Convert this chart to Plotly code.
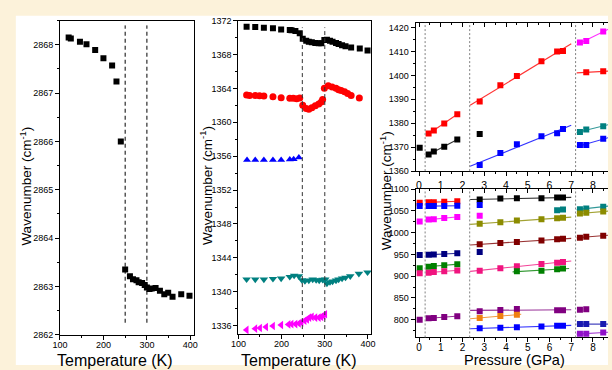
import numpy as np
import plotly.graph_objects as go

W, H = 612, 370

# ---------------- Panel A: single band vs temperature ----------------
temp_a = [120, 125, 146, 161, 181, 200, 220, 230, 240, 250, 261, 268, 276, 281, 289, 295,
          300, 306, 311, 320, 330, 340, 349, 359, 379, 398]
wn_a = [2868.15, 2868.13, 2868.06, 2868.01, 2867.89, 2867.72, 2867.57, 2867.24, 2866.0,
        2863.35, 2863.21, 2863.15, 2863.13, 2863.09, 2863.07, 2863.03, 2862.98, 2862.95,
        2862.96, 2862.97, 2862.91, 2862.84, 2862.87, 2862.79, 2862.84, 2862.81]
trans_temp_a = [250, 300]

# ---------------- Panel B: five bands vs temperature ----------------
temp_b_black = [119, 139, 159, 180, 199, 219, 223, 232, 242, 249, 257, 263, 270, 278, 286, 292,
                299, 305, 312, 318, 326, 332, 340, 348, 361, 381, 399]
wn_b_black = [1371.27, 1371.23, 1371.16, 1371.08, 1370.96, 1370.88, 1370.85, 1370.77, 1370.5,
              1369.85, 1369.62, 1369.5, 1369.43, 1369.35, 1369.31, 1369.31, 1369.7, 1369.73,
              1369.62, 1369.5, 1369.35, 1369.24, 1369.08, 1368.97, 1368.81, 1368.7, 1368.47]
temp_b_red = [119, 126, 139, 149, 159, 180, 199, 219, 227, 235, 242, 249, 257, 263, 270, 278,
              286, 292, 295, 299, 308, 317, 326, 332, 338, 346, 353, 361, 380]
wn_b_red = [1363.21, 1363.17, 1363.17, 1363.13, 1363.1, 1363.01, 1362.9, 1362.82, 1362.82,
            1362.78, 1362.86, 1362.01, 1361.63, 1361.55, 1361.71, 1361.94, 1362.17, 1362.4,
            1362.7, 1364.0, 1364.3, 1364.16, 1364.0, 1363.85, 1363.74, 1363.59, 1363.4,
            1363.17, 1362.86]
temp_b_blue = [120, 139, 159, 180, 199, 219, 228, 240]
wn_b_blue = [1355.55, 1355.55, 1355.55, 1355.55, 1355.55, 1355.6, 1355.65, 1355.85]
temp_b_teal = [119, 139, 159, 180, 199, 219, 229, 240, 247, 254, 263, 272, 280, 287, 295, 301,
               305, 312, 318, 326, 332, 340, 348, 359, 379, 399]
wn_b_teal = [1341.47, 1341.45, 1341.45, 1341.53, 1341.57, 1341.76, 1341.91, 1341.84, 1341.38,
             1341.27, 1341.34, 1341.45, 1341.38, 1341.34, 1341.42, 1341.45, 1340.99, 1341.15,
             1341.22, 1341.34, 1341.45, 1341.57, 1341.68, 1341.84, 1342.14, 1342.3]
temp_b_mag = [119, 139, 150, 164, 180, 199, 216, 223, 232, 240, 246, 253, 259, 264, 270, 278,
              286, 292, 297, 301]
wn_b_mag = [1335.5, 1335.65, 1335.73, 1335.85, 1335.96, 1336.08, 1336.15, 1336.19, 1336.19,
            1336.27, 1336.39, 1336.58, 1336.73, 1336.96, 1337.04, 1336.96, 1336.96, 1337.04,
            1337.19, 1337.35]
trans_temp_b = [248, 300]

# ---------------- Panel C: bands vs pressure ----------------
p_g1 = [0.03, 0.44, 0.68, 1.16, 1.76]
p_g1b = [0.44, 0.68, 1.16, 1.76]
p_g2 = [2.79, 3.74, 4.5, 5.63, 6.35, 6.62]
p_g3 = [7.4, 7.69, 8.47]
p_single = [2.79]
trans_p = [0.28, 2.33, 7.2]
seg1 = [0.33, 1.83]
seg2 = [2.35, 7.0]
seg3 = [7.25, 8.8]

# upper window (1360-1420 cm-1)
up_black_1 = [1369.8, 1366.9, 1368.2, 1370.2, 1373.2]
up_black_s = [1375.5]
up_red_1 = [1375.7, 1377.0, 1379.9, 1383.8]
up_red_2 = [1389.1, 1395.9, 1399.8, 1405.9, 1410.0, 1410.2]
up_blue_2 = [1362.5, 1367.6, 1371.2, 1374.6, 1375.8, 1377.6]
up_mag_3 = [1413.8, 1414.4, 1418.4]
p_up_red_3 = [7.69, 8.47]
up_red_3 = [1401.3, 1401.7]
up_teal_3 = [1376.3, 1377.4, 1378.8]
up_blue_3 = [1370.9, 1370.9, 1373.5]

# lower window (760-1100 cm-1)
lo_red_1 = [1068.8, 1070, 1070, 1071, 1072]
lo_blue_1 = [1061.2, 1061.2, 1061.2, 1061.5, 1061.8]
lo_mag_1 = [1025.5, 1030, 1031, 1033.7, 1036]
lo_navy_1 = [948.9, 949, 950, 951, 952.6]
lo_green_1 = [918.3, 921.4, 923.6, 925, 927.3]
lo_pink_1 = [906.5, 908, 909.4, 911, 913.2]
lo_purple_1 = [800, 803, 804, 806, 808]

lo_black_2 = [1076, 1078.3, 1079, 1079, 1080.6, 1080.6]
lo_blue_s = [1063.5]
lo_mag_s = [1039]
lo_navy_s = [955.6]
lo_olive_2 = [1020.3, 1024, 1027.7, 1030.8, 1033, 1034.4]
p_lo_teal_2 = [6.35, 6.62]
lo_teal_2 = [1051.6, 1053]
lo_maroon_2 = [973.4, 976.3, 978.6, 981.7, 984.6, 986.2]
lo_pink_2 = [912.5, 918.3, 922.8, 928, 931, 932.6]
p_lo_green_2 = [4.5, 5.63, 6.35, 6.62]
lo_green_2 = [911, 912.5, 916, 917.6]
seg_green_2 = [4.3, 6.9]
p_lo_purple_2 = [2.79, 3.74, 4.5, 6.35, 6.62]
lo_purple_2 = [819.4, 822.3, 824.6, 821.7, 821.7]
p_lo_orange_2 = [2.79, 3.74, 4.5]
lo_orange_2 = [803.8, 808.3, 811.2]
seg_orange_2 = [2.35, 4.7]
lo_blue_2 = [780, 781.5, 782.2, 784.4, 786, 786]

lo_teal_3 = [1053.8, 1055.3, 1059.8]
lo_olive_3 = [1044.2, 1045.6, 1048.6]
lo_maroon_3 = [988.4, 990.6, 992.9]
p_lo_purple_3 = [7.4, 7.69]
lo_purple_3 = [823, 823.7]
lo_navy_3 = [789.7, 789.7, 789.7]
lo_violet_3 = [767.5, 767.5, 770.5]

BLACK, RED, BLUE, MAG = "#000000", "#FF0000", "#0000FF", "#FF00FF"
TEAL, OLIVE, MAROON, NAVY = "#008080", "#8C8C00", "#800000", "#000080"
GREEN, PINK, PURPLE, ORANGE, VIOLET = "#008000", "#F0147F", "#800080", "#F08010", "#9010C8"

TICKFONT = dict(family="Liberation Sans, Arial", size=9, color="black")
TITLEFONT_H = dict(family="Liberation Sans, Arial", size=16, color="black")
TITLEFONT_V = dict(family="Liberation Sans, Arial", size=13.5, color="black")

fig = go.Figure()


def pts(x, y, color, xa, ya, symbol="square", size=6):
    fig.add_trace(go.Scatter(x=x, y=y, mode="markers", xaxis=xa, yaxis=ya,
                             marker=dict(symbol=symbol, size=size, color=color, line=dict(width=0)),
                             showlegend=False, hoverinfo="skip"))


def fit(x, y, seg, color, xa, ya):
    c = np.polyfit(x, y, 1)
    xs = np.array(seg, dtype=float)
    fig.add_trace(go.Scatter(x=xs, y=np.polyval(c, xs), mode="lines", xaxis=xa, yaxis=ya,
                             line=dict(color=color, width=1.1), opacity=0.8,
                             showlegend=False, hoverinfo="skip"))


# Panel A
pts(temp_a, wn_a, BLACK, "x", "y", size=6)

# Panel B
pts(temp_b_black, wn_b_black, BLACK, "x2", "y2", "square", 6)
pts(temp_b_red, wn_b_red, RED, "x2", "y2", "circle", 7)
pts(temp_b_blue, wn_b_blue, BLUE, "x2", "y2", "triangle-up", 7)
pts(temp_b_teal, wn_b_teal, TEAL, "x2", "y2", "triangle-down", 7.5)
pts(temp_b_mag, wn_b_mag, MAG, "x2", "y2", "triangle-left", 7.5)

# Panel C upper
up = ("x3", "y3")
fit(p_g1b, up_black_1[1:], seg1, BLACK, *up)
fit(p_g1b, up_red_1, seg1, RED, *up)
fit(p_g2, up_red_2, seg2, RED, *up)
fit(p_g2, up_blue_2, seg2, BLUE, *up)
fit(p_g3, up_mag_3, seg3, MAG, *up)
fit(p_up_red_3, up_red_3, seg3, RED, *up)
fit(p_g3, up_teal_3, seg3, TEAL, *up)
fit(p_g3, up_blue_3, seg3, BLUE, *up)
pts(p_g1, up_black_1, BLACK, *up)
pts(p_single, up_black_s, BLACK, *up)
pts(p_g1b, up_red_1, RED, *up)
pts(p_g2, up_red_2, RED, *up)
pts(p_g2, up_blue_2, BLUE, *up)
pts(p_g3, up_mag_3, MAG, *up)
pts(p_up_red_3, up_red_3, RED, *up)
pts(p_g3, up_teal_3, TEAL, *up)
pts(p_g3, up_blue_3, BLUE, *up)

# Panel C lower
lo = ("x4", "y4")
group1 = [(lo_red_1, RED), (lo_blue_1, BLUE), (lo_mag_1, MAG), (lo_navy_1, NAVY),
          (lo_green_1, GREEN), (lo_pink_1, PINK), (lo_purple_1, PURPLE)]
group2 = [(lo_black_2, BLACK), (lo_olive_2, OLIVE), (lo_maroon_2, MAROON),
          (lo_pink_2, PINK), (lo_blue_2, BLUE)]
group3 = [(lo_teal_3, TEAL), (lo_olive_3, OLIVE), (lo_maroon_3, MAROON),
          (lo_navy_3, "#1A1AB0"), (lo_violet_3, VIOLET)]
for series, col in group1:
    fit(p_g1b, series[1:], seg1, col, *lo)
for series, col in group2:
    fit(p_g2, series, seg2, col, *lo)
fit(p_lo_green_2, lo_green_2, seg_green_2, GREEN, *lo)
fit(p_lo_purple_2, lo_purple_2, seg2, PURPLE, *lo)
fit(p_lo_orange_2, lo_orange_2, seg_orange_2, ORANGE, *lo)
for series, col in group3:
    fit(p_g3, series, seg3, col, *lo)

for series, col in group1:
    pts(p_g1, series, col, *lo)
for series, col in group2:
    pts(p_g2, series, col, *lo)
pts(p_single, lo_blue_s, BLUE, *lo)
pts(p_single, lo_mag_s, MAG, *lo)
pts(p_single, lo_navy_s, NAVY, *lo)
pts(p_lo_teal_2, lo_teal_2, TEAL, *lo)
pts(p_lo_green_2, lo_green_2, GREEN, *lo)
pts(p_lo_purple_2, lo_purple_2, PURPLE, *lo)
pts(p_lo_orange_2, lo_orange_2, ORANGE, *lo)
for series, col in group3:
    pts(p_g3, series, col, *lo)
pts(p_lo_purple_3, lo_purple_3, PURPLE, *lo)

# dummy traces so that the inward top-tick axes get drawn
fig.add_trace(go.Scatter(x=[None], y=[None], xaxis="x5", yaxis="y3", showlegend=False))
fig.add_trace(go.Scatter(x=[None], y=[None], xaxis="x6", yaxis="y4", showlegend=False))


def xd(a, b):
    return [a / W, min(b / W, 1.0)]


def yd(top, bottom):
    return [1 - bottom / H, 1 - top / H]


base = dict(showline=True, linecolor="black", linewidth=1, showgrid=False, zeroline=False,
            ticks="outside", ticklen=4, tickwidth=1, tickcolor="black", tickfont=TICKFONT)

P_RANGE = [-0.16, 8.69]
P_TICKS = list(range(0, 9))

top_ticks = dict(side="top", range=P_RANGE, tickvals=P_TICKS,
                 ticks="inside", ticklen=4, tickcolor="black", showticklabels=False, showline=False,
                 showgrid=False, zeroline=False,
                 minor=dict(ticks="inside", ticklen=2, dtick=0.5, tick0=0, tickcolor="black"))

fig.update_layout(
    width=W, height=H, margin=dict(l=0, r=0, t=0, b=0),
    paper_bgcolor="#FCF2DA", plot_bgcolor="white", showlegend=False,
    xaxis=dict(base, domain=xd(53, 190), range=[100, 409], anchor="y", mirror=True,
               tickvals=[100, 200, 300, 400], ticklabelstandoff=-3,
               minor=dict(ticks="outside", ticklen=2, dtick=50, tick0=100)),
    yaxis=dict(base, domain=yd(16, 339), range=[2862, 2868.5], anchor="x", mirror=True,
               dtick=1, tick0=2862, minor=dict(ticks="outside", ticklen=2, dtick=0.5, tick0=2862)),
    xaxis2=dict(base, domain=xd(235, 370.7), range=[100, 408], anchor="y2", mirror=True,
                tickvals=[100, 200, 300, 400], ticklabelstandoff=-3,
                minor=dict(ticks="outside", ticklen=2, dtick=50, tick0=100)),
    yaxis2=dict(base, domain=yd(16, 338.3), range=[1335, 1372], anchor="x2", mirror=True,
                dtick=4, tick0=1336, minor=dict(ticks="outside", ticklen=2, dtick=2, tick0=1336)),
    xaxis3=dict(base, domain=xd(415.7, 612), range=P_RANGE, anchor="y3", mirror=True,
                tickvals=P_TICKS, tickfont=dict(TICKFONT, size=10.5),
                minor=dict(ticks="outside", ticklen=2, dtick=0.5, tick0=0)),
    yaxis3=dict(base, domain=yd(18.3, 170.7), range=[1360, 1422], anchor="x3",
                dtick=10, tick0=1360, minor=dict(ticks="outside", ticklen=2, dtick=5, tick0=1360)),
    xaxis4=dict(base, domain=xd(415.7, 612), range=P_RANGE, anchor="y4", mirror=True,
                tickvals=P_TICKS, tickfont=dict(TICKFONT, size=10), ticklen=4,
                ticklabelstandoff=-3,
                minor=dict(ticks="outside", ticklen=2, dtick=0.5, tick0=0)),
    yaxis4=dict(base, domain=yd(189.3, 341.7), range=[759, 1100], anchor="x4",
                dtick=50, tick0=800, minor=dict(ticks="outside", ticklen=2, dtick=25, tick0=800)),
    xaxis5=dict(top_ticks, overlaying="x3", anchor="y3"),
    xaxis6=dict(top_ticks, overlaying="x4", anchor="y4"),
)

shapes = [dict(type="rect", xref="paper", yref="paper", x0=8 / W, x1=1, y0=0, y1=1 - 11 / H,
               fillcolor="white", line=dict(width=0), layer="below")]
for t in trans_temp_a:
    shapes.append(dict(type="line", xref="x", yref="y", x0=t, x1=t, y0=2862.25, y1=2868.4,
                       line=dict(color="black", width=1, dash="4px,3px")))
for t in trans_temp_b:
    shapes.append(dict(type="line", xref="x2", yref="y2", x0=t, x1=t, y0=1335.6, y1=1371.2,
                       line=dict(color="#333333", width=1, dash="4px,3px")))
for p in trans_p:
    for yr in ["y3 domain", "y4 domain"]:
        shapes.append(dict(type="line", xref="x3", yref=yr, x0=p, x1=p, y0=0, y1=1,
                           line=dict(color="#808080", width=1, dash="2px,2px")))
fig.update_layout(shapes=shapes)

ylab = "Wavenumber (cm<sup>-1</sup>)"
ann = [
    dict(text=ylab, x=18 / W, y=1 - 186 / H, textangle=-90, font=TITLEFONT_V),
    dict(text=ylab, x=202 / W, y=1 - 186 / H, textangle=-90, font=TITLEFONT_V),
    dict(text=ylab, x=385 / W, y=1 - 191 / H, textangle=-90, font=TITLEFONT_V),
    dict(text="Temperature (K)", x=109 / W, y=1 - 365 / H, font=TITLEFONT_H),
    dict(text="Temperature (K)", x=297 / W, y=1 - 365 / H, font=TITLEFONT_H),
    dict(text="Pressure (GPa)", x=517 / W, y=1 - 365 / H, font=dict(TITLEFONT_H, size=14.5)),
]
for a in ann:
    a.update(xref="paper", yref="paper", showarrow=False, xanchor="center", yanchor="middle")
fig.update_layout(annotations=ann)

fig.write_html("out.html")
